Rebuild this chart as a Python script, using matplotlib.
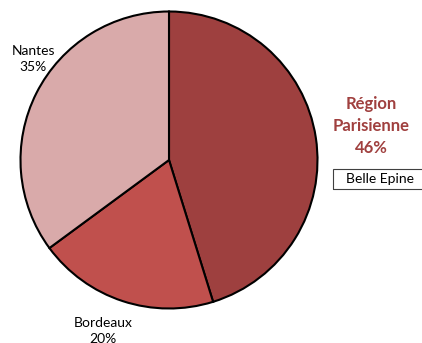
import matplotlib.pyplot as plt
from matplotlib.patches import Rectangle

# data
regions = ["Région\nParisienne", "Bordeaux", "Nantes"]
shares = [45.2, 19.7, 35.1]
pct_labels = ["46%", "20%", "35%"]
colors = ["#9e403f", "#c0504d", "#d9aaaa"]
series_name = "Belle Epine"

plt.rcParams['font.family'] = ['Lato', 'DejaVu Sans']

fig = plt.figure(figsize=(4.22, 3.43), dpi=100)
ax = fig.add_axes([0, 0, 1, 1])

wedges, _ = ax.pie(shares, colors=colors, startangle=90, counterclock=False,
                   radius=1.0, center=(0, 0),
                   wedgeprops=dict(edgecolor='black', linewidth=1.5))

# 1 unit = 148.5 px, pie centre at (169, 160) px
ax.set_xlim(-169 / 148.5, (422 - 169) / 148.5)
ax.set_ylim(-(343 - 160) / 148.5, 160 / 148.5)
ax.set_aspect('equal')
ax.axis('off')

# labels
ax.text(1.36, 0.23, f"{regions[0]}\n{pct_labels[0]}", ha='center', va='center',
        fontsize=12, fontweight='bold', color='#a0403f', linespacing=1.45)
ax.text(-0.445, -1.15, f"{regions[1]}\n{pct_labels[1]}", ha='center', va='center',
        fontsize=10, color='black', linespacing=1.4)
ax.text(-0.915, 0.68, f"{regions[2]}\n{pct_labels[2]}", ha='center', va='center',
        fontsize=10, color='black', linespacing=1.4)

# legend-like box
fig.patches.append(Rectangle((333 / 422, 1 - 189 / 343), 95 / 422, 20 / 343,
                             transform=fig.transFigure, fill=False,
                             edgecolor='#404040', linewidth=0.8))
fig.text(346 / 422, 1 - 179 / 343, series_name, ha='left', va='center',
         fontsize=10, color='black')

fig.savefig("out.png", dpi=100)
